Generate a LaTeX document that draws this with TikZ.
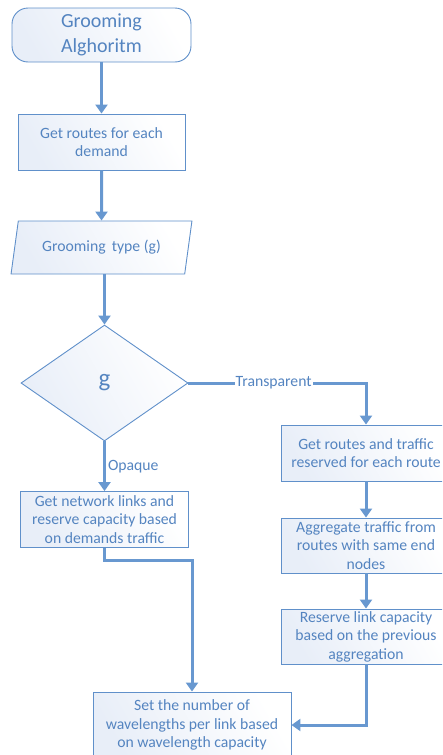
\documentclass[tikz,border=0pt]{standalone}
\usepackage{fontspec}
\setmainfont{Carlito}
\usetikzlibrary{arrows.meta,shapes.geometric}
\definecolor{txtblue}{RGB}{84,132,192}
\definecolor{edgeblue}{RGB}{96,144,202}
\definecolor{flowblue}{RGB}{104,152,208}
\definecolor{paleblue}{RGB}{232,238,248}
\tikzset{
  x=1pt, y=-1pt,
  every node/.style={text=txtblue, font=\fontsize{15.7}{18.6}\selectfont, align=center},
  boxfill/.style={draw=edgeblue, line width=0.9pt, left color=paleblue, right color=white, shading angle=120},
  procbox/.style={boxfill, rectangle, inner sep=0pt},
  flow/.style={draw=flowblue, line width=3pt, -{Triangle[width=12pt,length=9pt]}},
  branch/.style={fill=white, inner sep=1pt}
}
\begin{document}
\begin{tikzpicture}
\useasboundingbox (0,0) rectangle (442,755);
\clip (0,0) rectangle (442,755);

% start terminal
\node[boxfill, rounded corners=16pt, minimum width=179pt, minimum height=54pt,
      font=\fontsize{20}{24.6}\selectfont] (start) at (101.5,35) {Grooming\\Alghoritm};

% main column
\node[procbox, minimum width=167pt, minimum height=56pt] (routes) at (101.5,142)
  {Get routes for each\\demand};
\node[boxfill, trapezium, trapezium left angle=70, trapezium right angle=110,
      trapezium stretches=true, minimum width=181pt, minimum height=53pt, inner sep=0pt]
  (gtype) at (101.5,247.5) {Grooming\, type (g)};
\node[boxfill, diamond, minimum width=167pt, minimum height=116pt, inner sep=0pt,
      font=\fontsize{25}{29}\selectfont] (dec) at (104.5,383) {g};

% opaque branch
\node[procbox, minimum width=168pt, minimum height=56pt] (links) at (104.5,519.5)
  {Get network links and\\reserve capacity based\\on demands traffic};

% transparent branch
\node[procbox, minimum width=169pt, minimum height=56pt] (rtraffic) at (366,453)
  {Get routes and traffic\\reserved for each route};
\node[procbox, minimum width=169pt, minimum height=55pt] (aggr) at (366,545.5)
  {Aggregate traffic from\\routes with same end\\nodes};
\node[procbox, minimum width=169pt, minimum height=55pt] (reserve) at (366,636.5)
  {Reserve link capacity\\based on the previous\\aggregation};

% final step
\node[procbox, minimum width=198pt, minimum height=66pt] (wave) at (192,725)
  {Set the number of\\wavelengths per link based\\on wavelength capacity};

\coordinate (bend) at (104.5,560);

% connectors
\draw[flow] (start.south) -- (routes.north);
\draw[flow] (routes.south) -- (gtype.north);
\draw[flow] (dec.north |- gtype.south) -- (dec.north);
\draw[flow] (dec.east) -- (rtraffic.north |- dec.east)
  node[branch, pos=0.48] {Transparent} -- (rtraffic.north);
\draw[flow] (rtraffic.south) -- (aggr.north);
\draw[flow] (aggr.south) -- (reserve.north);
\draw[flow] (reserve.south) |- (wave.east);
\draw[flow] (dec.south) -- (links.north)
  node[pos=0.5, anchor=west, inner sep=2pt] {Opaque};
\draw[flow] (links.south) -- (bend) -| (wave.north);
\end{tikzpicture}
\end{document}
